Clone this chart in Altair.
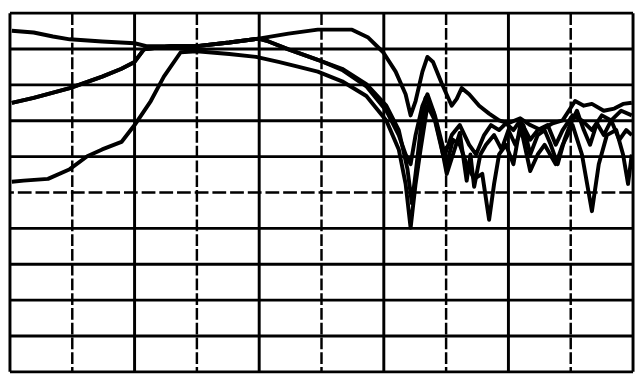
import altair as alt
import pandas as pd

# Grid divisions (10 x 10)
grid_x = [0, 1, 2, 3, 4, 5, 6, 7, 8, 9, 10]
grid_x_dashed = [False, True, False, True, False, True, False, True, False, True, False]
grid_y = [0, 1, 2, 3, 4, 5, 6, 7, 8, 9, 10]
grid_y_dashed = [False, False, False, False, False, True, False, False, False, False, False]

# Trace A (upper)
a_x = [0.03, 0.38, 0.69, 0.96, 1.48, 2.00, 2.19, 2.58, 3.00, 3.52, 3.99, 4.47, 4.94, 5.49, 5.75, 5.99,
       6.19, 6.35, 6.43, 6.51, 6.62, 6.70, 6.79, 6.93, 7.09, 7.17, 7.25, 7.37, 7.53, 7.69, 7.85, 8.00,
       8.19, 8.35, 8.52, 8.71, 8.87, 9.07, 9.21, 9.34, 9.53, 9.70, 9.84, 9.98]
a_y = [9.51, 9.46, 9.35, 9.27, 9.21, 9.16, 9.08, 9.08, 9.08, 9.18, 9.29, 9.43, 9.54, 9.54, 9.32, 8.91,
       8.37, 7.74, 7.15, 7.55, 8.37, 8.78, 8.64, 8.04, 7.42, 7.61, 7.91, 7.74, 7.42, 7.20, 7.01, 6.93,
       7.07, 6.88, 6.74, 6.93, 7.01, 7.55, 7.42, 7.47, 7.28, 7.34, 7.47, 7.50]

# Trace B (middle)
b_x = [0.03, 0.38, 0.96, 1.48, 1.79, 2.00, 2.15, 2.58, 3.00, 3.52, 3.99, 4.15, 4.47, 4.94, 5.33, 5.72,
       6.04, 6.24, 6.35, 6.43, 6.51, 6.62, 6.70, 6.82, 6.98, 7.09, 7.22, 7.37, 7.48, 7.61, 7.72, 7.85,
       7.96, 8.08, 8.19, 8.35, 8.47, 8.63, 8.76, 8.87, 9.03, 9.18, 9.34, 9.50, 9.65, 9.81, 9.98]
b_y = [7.50, 7.64, 7.91, 8.23, 8.45, 8.64, 8.99, 9.08, 9.08, 9.18, 9.29, 9.21, 8.99, 8.70, 8.42, 7.96,
       7.28, 6.60, 6.06, 5.79, 6.60, 7.42, 7.74, 7.15, 6.06, 6.60, 6.88, 6.33, 6.06, 6.60, 6.88, 6.74,
       6.93, 6.74, 7.01, 6.47, 6.74, 6.88, 6.33, 6.74, 7.15, 7.01, 6.74, 7.15, 7.01, 7.28, 7.15]

# Trace C (lower)
c_x = [0.03, 0.22, 0.61, 0.96, 1.24, 1.48, 1.79, 2.00, 2.26, 2.47, 2.74, 3.00, 3.52, 3.95, 4.31, 4.62,
       4.94, 5.33, 5.72, 6.04, 6.24, 6.35, 6.43, 6.51, 6.59, 6.70, 6.82, 6.95, 7.01, 7.11, 7.22, 7.33,
       7.45, 7.58, 7.69, 7.77, 7.85, 7.96, 8.08, 8.19, 8.35, 8.47, 8.58, 8.76, 8.87, 9.03, 9.18, 9.34,
       9.45, 9.58, 9.73, 9.84, 9.92, 9.98]
c_y = [5.30, 5.33, 5.38, 5.65, 6.01, 6.20, 6.41, 6.88, 7.55, 8.23, 8.91, 8.94, 8.86, 8.78, 8.64, 8.51,
       8.37, 8.10, 7.69, 7.01, 6.20, 5.24, 4.02, 5.24, 6.20, 7.42, 7.01, 6.06, 5.79, 6.47, 6.33, 5.79,
       5.38, 5.52, 4.24, 5.24, 6.06, 6.33, 5.79, 6.88, 5.60, 6.06, 6.33, 5.79, 6.33, 6.88, 6.06, 4.48,
       5.79, 6.60, 6.74, 6.06, 5.24, 6.06]

# Trace D (overlaps B on the left, separates in the ripple region)
d_x = [0.03, 0.38, 0.96, 1.48, 1.79, 2.00, 2.15, 2.58, 3.00, 3.52, 3.99, 4.15, 4.47, 4.94, 5.33, 5.72,
       6.04, 6.24, 6.38, 6.45, 6.51, 6.60, 6.67, 6.79, 6.92, 7.01, 7.11, 7.22, 7.33, 7.39, 7.45, 7.55,
       7.64, 7.77, 7.89, 8.00, 8.11, 8.24, 8.35, 8.47, 8.58, 8.68, 8.79, 8.90, 8.99, 9.10, 9.21, 9.31,
       9.42, 9.53, 9.65, 9.78, 9.89, 9.98]
d_y = [7.50, 7.64, 7.91, 8.23, 8.45, 8.64, 8.99, 9.08, 9.08, 9.18, 9.29, 9.21, 8.99, 8.70, 8.45, 8.02,
       7.42, 6.74, 5.65, 4.70, 5.52, 6.88, 7.64, 7.28, 6.33, 5.52, 6.06, 6.66, 5.33, 6.06, 5.16, 6.06,
       6.33, 6.60, 6.20, 6.74, 6.33, 6.88, 6.06, 6.60, 6.74, 6.33, 5.79, 6.47, 6.88, 7.28, 6.74, 6.33,
       6.93, 6.60, 7.01, 6.47, 6.74, 6.60]

xs = alt.Scale(domain=[0, 10], nice=False, zero=False)
ys = alt.Scale(domain=[0, 10], nice=False, zero=False)

vdf = pd.DataFrame({"x": grid_x, "dashed": grid_x_dashed})
hdf = pd.DataFrame({"y": grid_y, "dashed": grid_y_dashed})

v_solid = alt.Chart(vdf[~vdf["dashed"]]).mark_rule(color="black", strokeWidth=3).encode(
    x=alt.X("x:Q", scale=xs, axis=None))
v_dash = alt.Chart(vdf[vdf["dashed"]]).mark_rule(color="black", strokeWidth=2.5, strokeDash=[12, 3]).encode(
    x=alt.X("x:Q", scale=xs, axis=None))
h_solid = alt.Chart(hdf[~hdf["dashed"]]).mark_rule(color="black", strokeWidth=3).encode(
    y=alt.Y("y:Q", scale=ys, axis=None))
h_dash = alt.Chart(hdf[hdf["dashed"]]).mark_rule(color="black", strokeWidth=2.5, strokeDash=[14, 4]).encode(
    y=alt.Y("y:Q", scale=ys, axis=None))

traces = pd.concat([
    pd.DataFrame({"x": a_x, "y": a_y, "trace": "A", "i": range(len(a_x))}),
    pd.DataFrame({"x": b_x, "y": b_y, "trace": "B", "i": range(len(b_x))}),
    pd.DataFrame({"x": c_x, "y": c_y, "trace": "C", "i": range(len(c_x))}),
    pd.DataFrame({"x": d_x, "y": d_y, "trace": "D", "i": range(len(d_x))}),
])

lines = alt.Chart(traces).mark_line(color="black", strokeWidth=4, strokeJoin="round", clip=True).encode(
    x=alt.X("x:Q", scale=xs, axis=None),
    y=alt.Y("y:Q", scale=ys, axis=None),
    detail="trace:N",
    order="i:Q",
)

chart = alt.layer(v_solid, v_dash, h_solid, h_dash, lines).properties(
    width=634, height=365, padding=0, background="white"
).configure_view(stroke=None)

chart.save("out.html", embed_options={"renderer": "svg", "actions": False})
